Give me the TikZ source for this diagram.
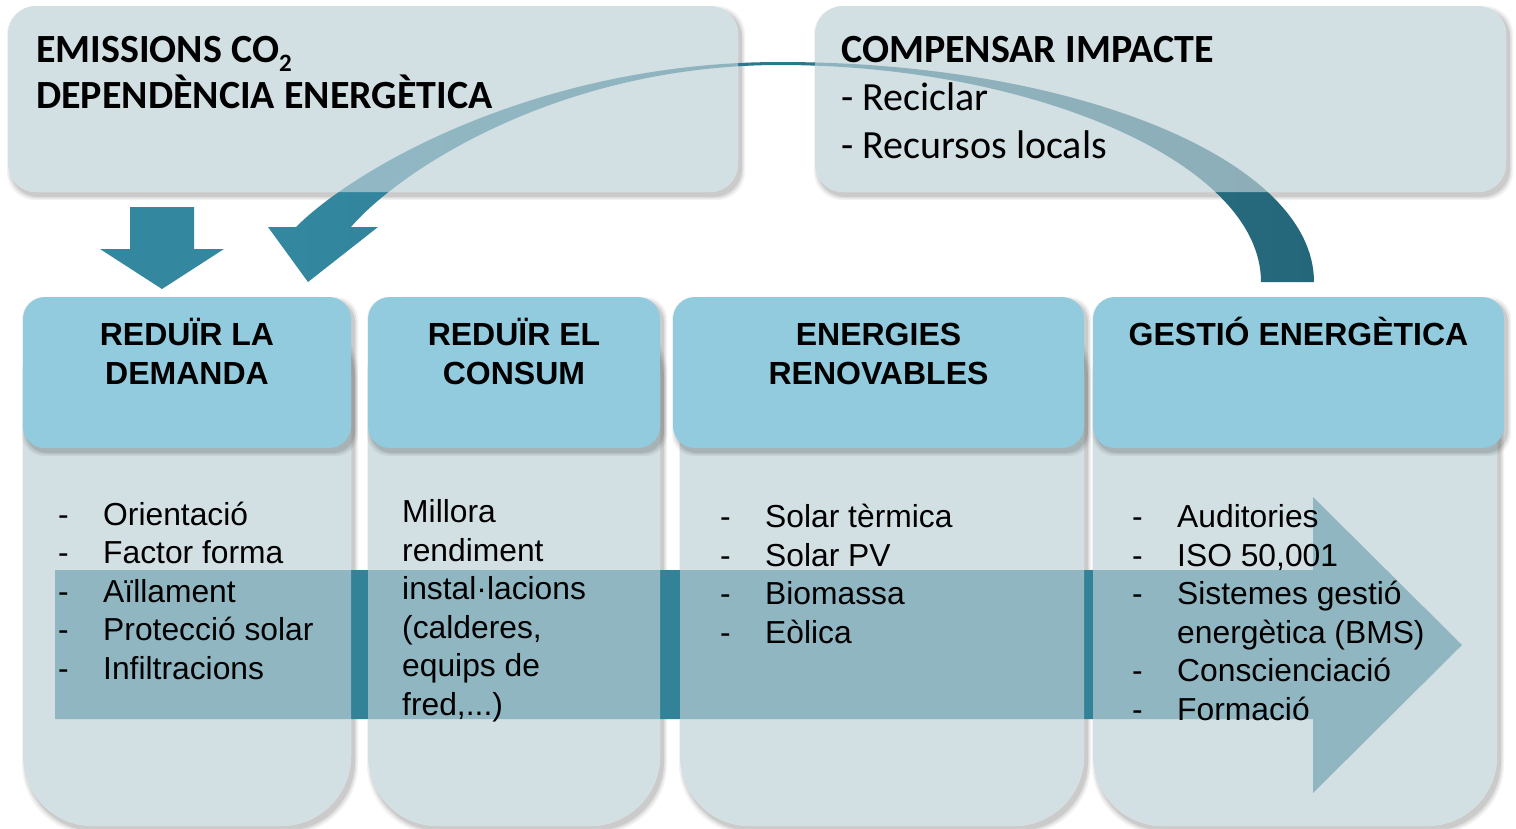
\documentclass[tikz,border=0pt]{standalone}
\usepackage{fontspec}
\newfontfamily\calib{Carlito}
\newfontfamily\arialf{Liberation Sans}
\definecolor{boxc}{RGB}{190,208,214}
\definecolor{headc}{RGB}{146,203,222}
\definecolor{arrowL}{RGB}{51,136,160}
\definecolor{arrowR}{RGB}{37,103,122}
\definecolor{bandc}{RGB}{50,130,152}
\newcommand\softshadow[5]{%
  \foreach \e/\o in {4/0.05,2.5/0.07,1/0.09}{%
    \fill[black,opacity=\o,rounded corners=#5] (#1+3-\e,#2+4-\e) rectangle (#3+3+\e,#4+4+\e);}}
\begin{document}
\begin{tikzpicture}[x=1pt,y=-1pt,
  topfill/.style={fill=boxc,fill opacity=0.68,rounded corners=28pt},
  bodyfill/.style={fill=boxc,fill opacity=0.68,rounded corners=70pt},
  headbox/.style={fill=headc,rounded corners=22pt},
  toptitle/.style={anchor=base west,inner sep=0pt,font=\calib\bfseries\fontsize{40}{48}\selectfont},
  toptext/.style={anchor=base west,inner sep=0pt,font=\calib\fontsize{40}{48}\selectfont},
  headtext/.style={anchor=base,inner sep=0pt,font=\arialf\bfseries\fontsize{32}{39}\selectfont},
  itemtext/.style={anchor=base west,inner sep=0pt,font=\arialf\fontsize{31.8}{38.5}\selectfont}]
\useasboundingbox (0,0) rectangle (1516,828);
\fill[white] (0,0) rectangle (1516,828);
% shadows
\softshadow{8}{6}{738}{192}{28pt}
\softshadow{815}{6}{1506}{192}{28pt}
\softshadow{23}{305}{351}{826}{70pt}
\softshadow{368}{305}{660}{826}{70pt}
\softshadow{680}{305}{1084}{826}{70pt}
\softshadow{1093}{305}{1497}{826}{70pt}
% white underlays
\fill[white,rounded corners=28pt] (8,6) rectangle (738,192);
\fill[white,rounded corners=28pt] (815,6) rectangle (1506,192);
\fill[white,rounded corners=70pt] (23,305) rectangle (351,826);
\fill[white,rounded corners=70pt] (368,305) rectangle (660,826);
\fill[white,rounded corners=70pt] (680,305) rectangle (1084,826);
\fill[white,rounded corners=70pt] (1093,305) rectangle (1497,826);
% arrows
\fill[arrowL] (130,207) -- (194,207) -- (194,249) -- (224,249) -- (162,289) -- (100,249) -- (130,249) -- cycle;
\shade[left color=arrowL,right color=arrowR]
  (1314,282) .. controls (1314,160) and (1075,62) .. (780,62)
  .. controls (540,62) and (356,167) .. (296,227)
  -- (268,227) -- (308,282) -- (378,227) -- (351,227)
  .. controls (400,170) and (560,65) .. (780,65)
  .. controls (1030,65) and (1261,162) .. (1261,282) -- cycle;
\fill[bandc] (55,570) -- (1313,570) -- (1313,497) -- (1462,645) -- (1313,793) -- (1313,719) -- (55,719) -- cycle;
% translucent boxes
\path[topfill] (8,6) rectangle (738,192);
\path[topfill] (815,6) rectangle (1506,192);
\path[bodyfill] (23,305) rectangle (351,826);
\path[bodyfill] (368,305) rectangle (660,826);
\path[bodyfill] (680,305) rectangle (1084,826);
\path[bodyfill] (1093,305) rectangle (1497,826);
% headers
\softshadow{23}{297}{351}{448}{22pt}
\softshadow{368}{297}{660}{448}{22pt}
\softshadow{673}{297}{1084}{448}{22pt}
\softshadow{1093}{297}{1504}{448}{22pt}
\path[headbox] (23,297) rectangle (351,448);
\path[headbox] (368,297) rectangle (660,448);
\path[headbox] (673,297) rectangle (1084,448);
\path[headbox] (1093,297) rectangle (1504,448);
% top texts
\node[toptitle] (t1) at (36,62) {EMISSIONS CO\raisebox{-9pt}{\fontsize{25}{25}\selectfont 2}};
\node[toptitle] (t2) at (36,108) {DEPENDÈNCIA ENERGÈTICA};
\node[toptitle] (t3) at (841,62) {COMPENSAR IMPACTE};
\node[toptext] (t4) at (841,110) {- Reciclar};
\node[toptext] (t5) at (841,158) {- Recursos locals};
% header texts
\node[headtext] (h1a) at (187,345) {REDUÏR LA};
\node[headtext] (h1b) at (187,384) {DEMANDA};
\node[headtext] (h2a) at (514,345) {REDUÏR EL};
\node[headtext] (h2b) at (514,384) {CONSUM};
\node[headtext] (h3a) at (878.5,345) {ENERGIES};
\node[headtext] (h3b) at (878.5,384) {RENOVABLES};
\node[headtext] (h4a) at (1298.5,345) {GESTIÓ ENERGÈTICA};
% column 1
\foreach \t [count=\i] in {Orientació,Factor forma,Aïllament,Protecció solar,Infiltracions}{
  \node[itemtext] (d1\i) at (58,525+38.5*\i-38.5) {-};
  \node[itemtext] (c1\i) at (103,525+38.5*\i-38.5) {\t};}
% column 2
\node[itemtext] (c21) at (402,522.5) {Millora};
\node[itemtext] (c22) at (402,561) {rendiment};
\node[itemtext] (c23) at (402,599.5) {instal·lacions};
\node[itemtext] (c24) at (402,638) {(calderes,};
\node[itemtext] (c25) at (402,676.5) {equips de};
\node[itemtext] (c26) at (402,715) {fred,...)};
% column 3
\foreach \t [count=\i] in {Solar tèrmica,Solar PV,Biomassa,Eòlica}{
  \node[itemtext] (d3\i) at (720,527.5+38.5*\i-38.5) {-};
  \node[itemtext] (c3\i) at (765,527.5+38.5*\i-38.5) {\t};}
% column 4
\node[itemtext] (d41) at (1132,527.5) {-};
\node[itemtext] (c41) at (1177,527.5) {Auditories};
\node[itemtext] (d42) at (1132,566) {-};
\node[itemtext] (c42) at (1177,566) {ISO 50,001};
\node[itemtext] (d43) at (1132,604.5) {-};
\node[itemtext] (c43) at (1177,604.5) {Sistemes gestió};
\node[itemtext] (c44) at (1177,643) {energètica (BMS)};
\node[itemtext] (d45) at (1132,681.5) {-};
\node[itemtext] (c45) at (1177,681.5) {Conscienciació};
\node[itemtext] (d46) at (1132,720) {-};
\node[itemtext] (c46) at (1177,720) {Formació};
\end{tikzpicture}
\end{document}
